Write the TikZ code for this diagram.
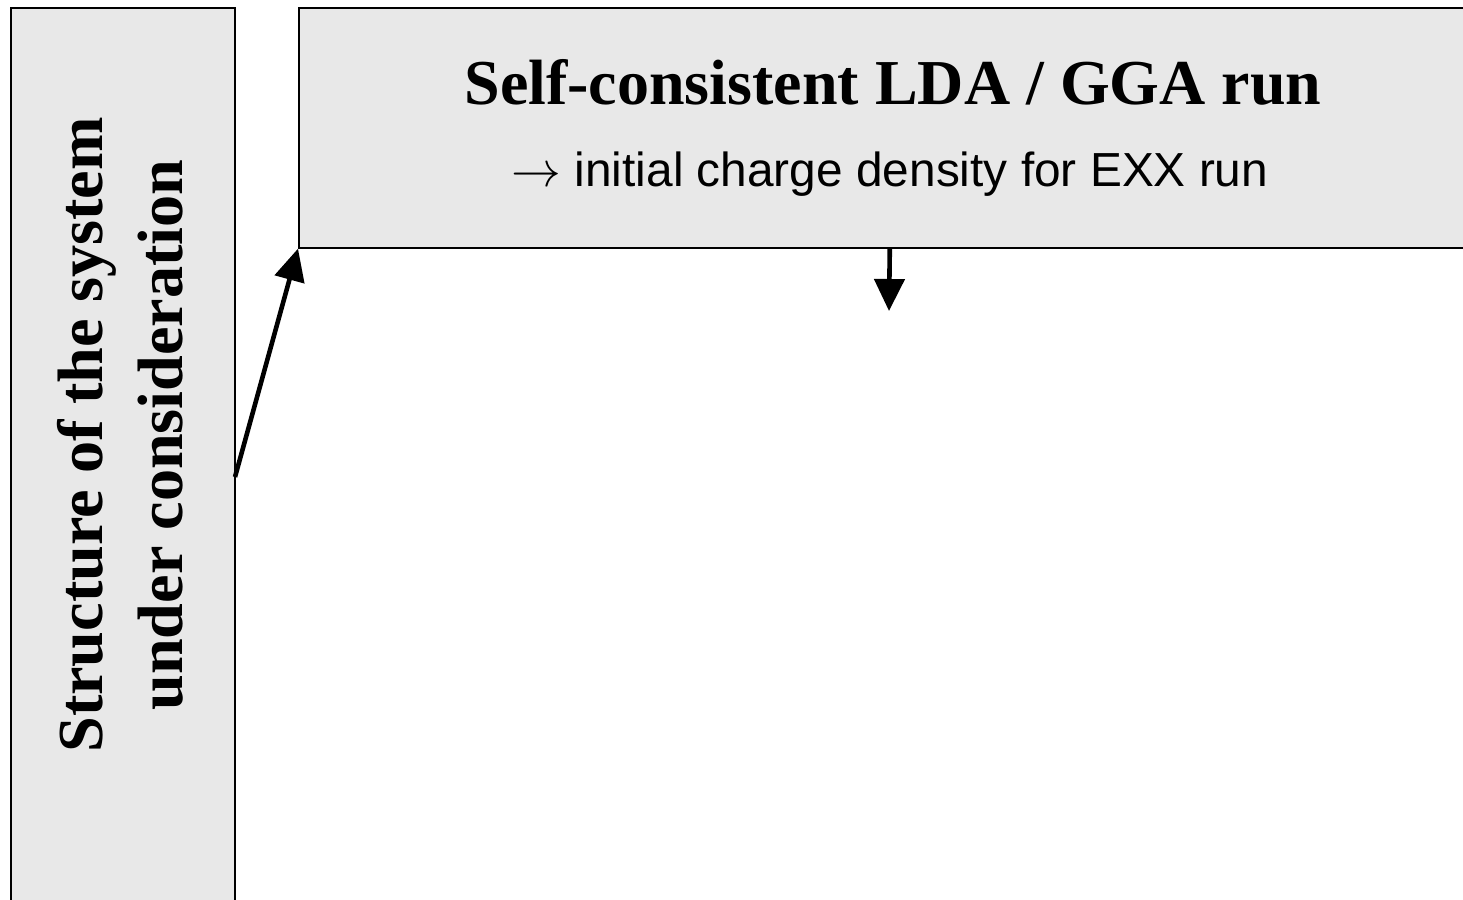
\documentclass[tikz,border=0pt]{standalone}
\usepackage{fontspec}
\setmainfont{Liberation Serif}
\setsansfont{Liberation Sans}
\usetikzlibrary{arrows.meta}
\definecolor{boxgray}{HTML}{E8E8E8}
\tikzset{
  panel/.style={draw=black, line width=0.8pt, fill=boxgray, inner sep=0pt},
  flow/.style={-{Triangle[length=16pt,width=15pt]}, line width=2.3pt},
}
\begin{document}
\begin{tikzpicture}[x=0.5pt,y=-0.5pt]
\useasboundingbox (0,0) rectangle (1463,900);
\clip (0,0) rectangle (1463,900);
\node[panel, minimum width=112pt, minimum height=480pt, anchor=north west] (lbox) at (10,7) {};
\node[panel, minimum width=591pt, minimum height=120pt, anchor=north west] (tbox) at (298,7) {};
\node[font=\bfseries\fontsize{32.1}{40}\selectfont, align=center, rotate=90] (ltext) at (120,435) {Structure of the system\\under consideration};
\node[font=\bfseries\fontsize{32}{40}\selectfont, anchor=base] (title) at (893,104) {Self-consistent LDA / GGA run};
\node[font=\sffamily\fontsize{23.9}{28}\selectfont, anchor=base] (sub) at (890,186) {$\rightarrow$ initial charge density for EXX run};
\coordinate (start) at (235,477);
\coordinate (down) at (889,311);
\draw[flow] (start) -- (tbox.south west);
\draw[flow] (tbox.south) -- (down);
\end{tikzpicture}
\end{document}
